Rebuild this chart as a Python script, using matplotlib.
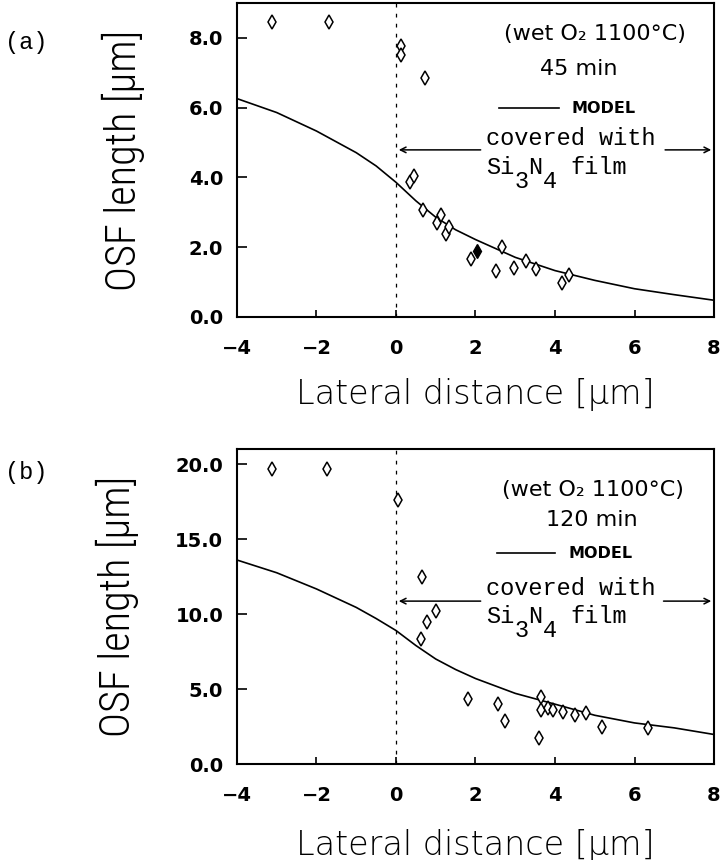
import matplotlib
matplotlib.use("Agg")
import matplotlib.pyplot as plt
from matplotlib import font_manager

# panel (a): wet O2, 1100 C, 45 min
a_x = [-3.12, -1.69, 0.12, 0.12, 0.74, 0.35, 0.46, 0.68, 1.03, 1.13, 1.25, 1.33,
       1.89, 2.52, 2.67, 2.98, 3.26, 3.53, 4.17, 4.34]
a_y = [8.45, 8.45, 7.76, 7.52, 6.84, 3.88, 4.03, 3.07, 2.70, 2.92, 2.38, 2.59,
       1.67, 1.33, 2.02, 1.40, 1.60, 1.38, 0.97, 1.21]
a_fill_x = [2.05]
a_fill_y = [1.89]
a_model_x = [-4, -3, -2, -1, -0.5, 0, 0.5, 1, 1.5, 2, 3, 4, 5, 6, 7, 8]
a_model_y = [6.26, 5.86, 5.33, 4.71, 4.33, 3.86, 3.33, 2.86, 2.50, 2.22, 1.71,
             1.33, 1.05, 0.81, 0.64, 0.48]

# panel (b): wet O2, 1100 C, 120 min
b_x = [-3.13, -1.73, 0.04, 0.65, 1.01, 0.78, 0.62, 1.82, 2.57, 2.75, 3.60, 3.66,
       3.66, 3.82, 3.96, 4.19, 4.50, 4.78, 5.18, 6.35]
b_y = [19.7, 19.7, 17.6, 12.5, 10.2, 9.44, 8.33, 4.32, 3.99, 2.85, 1.75, 4.45,
       3.57, 3.73, 3.62, 3.44, 3.27, 3.40, 2.46, 2.39]
b_model_x = [-4, -3, -2, -1, -0.5, 0, 0.5, 1, 1.5, 2, 3, 4, 5, 6, 7, 8]
b_model_y = [13.6, 12.75, 11.67, 10.44, 9.7, 8.9, 7.9, 7.0, 6.3, 5.7, 4.71,
             3.99, 3.25, 2.74, 2.41, 1.97]

x_ticks = [-4, -2, 0, 2, 4, 6, 8]
x_ticklabels = ["\u22124", "\u22122", "0", "2", "4", "6", "8"]
a_yticks = [0, 2, 4, 6, 8]
b_yticks = [0, 5, 10, 15, 20]

mono = "Liberation Mono"
MONO_SIZE = 17
CELL = 0.6 * MONO_SIZE  # advance of one monospaced char, in points

# narrow font for the y label if one is installed
installed = {f.name for f in font_manager.fontManager.ttflist}
ylab_family, ylab_size = "DejaVu Sans", 22
for name, size in [("Roboto Condensed", 30.5), ("Open Sans Condensed", 31.5),
                   ("Liberation Sans Narrow", 29.5)]:
    if name in installed:
        ylab_family, ylab_size = name, size
        break

fig = plt.figure(figsize=(7.21, 8.6), dpi=100)
ax1 = fig.add_axes([0.3287, 0.6314, 0.6616, 0.3651])
ax2 = fig.add_axes([0.3287, 0.1116, 0.6616, 0.3663])


def setup(ax, yticks, ymax):
    ax.set_xlim(-4, 8)
    ax.set_ylim(0, ymax)
    ax.set_xticks(x_ticks)
    ax.set_xticklabels(x_ticklabels, fontweight="bold")
    ax.set_yticks(yticks)
    ax.set_yticklabels(["%.1f" % v for v in yticks], fontweight="bold")
    ax.tick_params(axis="x", direction="in", length=5, width=1.2, pad=16, labelsize=14)
    ax.tick_params(axis="y", direction="in", length=7, width=1.2, pad=10, labelsize=14)
    for s in ax.spines.values():
        s.set_linewidth(1.5)
    ax.axvline(0, color="black", lw=0.9, ls=(0, (3, 5)))


def mono_piece(ax, x, y, s, cell, dy=0):
    ax.annotate(s, xy=(x, y), xytext=(cell * CELL, dy), textcoords="offset points",
                family=mono, fontsize=MONO_SIZE, ha="left", va="baseline")


def panel(ax, xs, ys, mx, my, ymax, yticks, cond, dur, t):
    setup(ax, yticks, ymax)
    ax.plot(mx, my, color="black", lw=1.2)
    ax.plot(xs, ys, ls="none", marker="d", ms=7, mfc="white", mec="black", mew=1.1)
    ax.text(t["wet"][0], t["wet"][1], cond, ha="center", va="center", fontsize=16)
    ax.text(t["dur"][0], t["dur"][1], dur, ha="center", va="center", fontsize=16)
    ax.plot(t["line"][0:2], [t["line"][2]] * 2, color="black", lw=1.2)
    ax.text(t["model"][0], t["model"][1], "MODEL", ha="left", va="center",
            fontsize=11.5, fontweight="bold")
    x0 = 2.26
    mono_piece(ax, x0, t["cov"], "covered with", 0)
    mono_piece(ax, x0, t["si"], "Si", 0)
    mono_piece(ax, x0, t["si"], "3", 2, dy=-10)
    mono_piece(ax, x0, t["si"], "N", 3)
    mono_piece(ax, x0, t["si"], "4", 4, dy=-10)
    mono_piece(ax, x0, t["si"], "film", 6)
    ay = t["arrow"]
    ax.annotate("", xy=(0, ay), xytext=(2.2, ay),
                arrowprops=dict(arrowstyle="->", lw=1.1, color="black"))
    ax.annotate("", xy=(8, ay), xytext=(t["rarrow"], ay),
                arrowprops=dict(arrowstyle="->", lw=1.1, color="black"))


panel(ax1, a_x, a_y, a_model_x, a_model_y, 9.0, a_yticks,
      "(wet O\u2082 1100\u00b0C)", "45 min",
      dict(wet=(5.0, 8.1), dur=(4.6, 7.1), line=(2.6, 4.1, 5.98),
           model=(4.42, 5.98), cov=4.92, si=4.10, arrow=4.79, rarrow=6.7))
ax1.plot(a_fill_x, a_fill_y, ls="none", marker="d", ms=7, mfc="black", mec="black")

panel(ax2, b_x, b_y, b_model_x, b_model_y, 21.0, b_yticks,
      "(wet O\u2082 1100\u00b0C)", "120 min",
      dict(wet=(4.95, 18.3), dur=(4.92, 16.3), line=(2.53, 4.0, 14.06),
           model=(4.33, 14.06), cov=11.26, si=9.39, arrow=10.86, rarrow=6.66))

for yc, xc in [(0.814, 0.171), (0.295, 0.163)]:
    fig.text(xc, yc, "OSF length [\u03bcm]", rotation=90, ha="center", va="center",
             family=[ylab_family, "DejaVu Sans"], fontsize=ylab_size, fontweight="light")
for yc in [0.5407, 0.0174]:
    fig.text(0.6595, yc, "Lateral distance [\u03bcm]", ha="center", va="center",
             fontsize=24, fontweight="light")
fig.text(0.007, 0.95, "(a)", family=mono, fontsize=17, ha="left", va="center")
fig.text(0.007, 0.45, "(b)", family=mono, fontsize=17, ha="left", va="center")

fig.savefig("out.png", dpi=100)
